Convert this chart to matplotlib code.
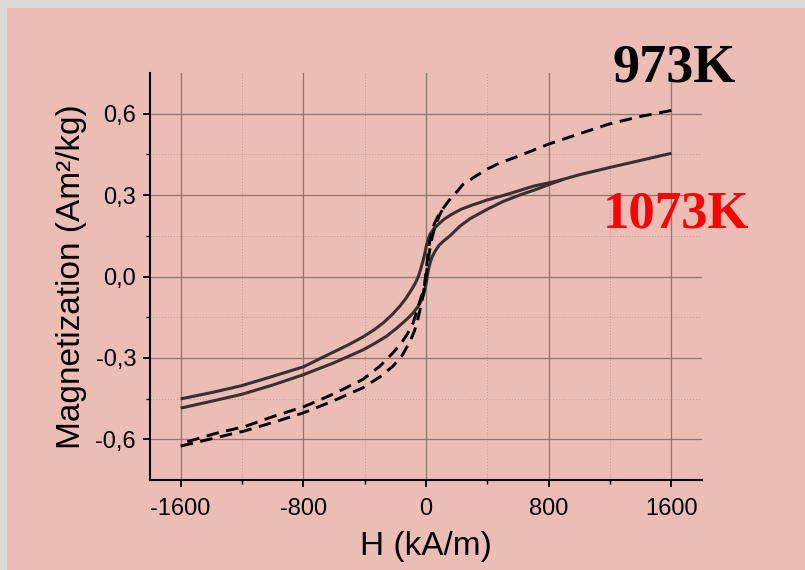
import numpy as np
import matplotlib
matplotlib.use("Agg")
import matplotlib.pyplot as plt
from matplotlib.patches import Rectangle

# 1073K loop (solid): descending branch (+H -> -H) and ascending branch (-H -> +H)
h_desc_1073 = [1600, 1400, 1200, 1000, 850, 700, 600, 500, 400, 300, 230, 170, 120, 80, 50,
               26, 10, 4, -6, -17, -32, -50, -70, -94, -130, -170, -220, -279, -340, -409,
               -500, -627, -800, -1000, -1200, -1400, -1600]
m_desc_1073 = [0.454, 0.428, 0.402, 0.375, 0.351, 0.333, 0.315, 0.298, 0.282, 0.263, 0.248,
               0.230, 0.212, 0.192, 0.175, 0.155, 0.130, 0.118, 0.090, 0.063, 0.032, 0.000,
               -0.025, -0.048, -0.080, -0.109, -0.140, -0.171, -0.197, -0.222, -0.250,
               -0.285, -0.333, -0.368, -0.402, -0.428, -0.451]
h_asc_1073 = [-1600, -1400, -1200, -1000, -800, -600, -409, -330, -257, -190, -126, -85, -50,
              -25, -7, 3, 8, 16, 26, 40, 59, 85, 113, 157, 220, 287, 400, 505, 620, 723, 831,
              900]
m_asc_1073 = [-0.485, -0.460, -0.434, -0.400, -0.362, -0.318, -0.270, -0.245, -0.220, -0.190,
              -0.158, -0.135, -0.109, -0.082, -0.048, -0.020, 0.000, 0.025, 0.049, 0.072,
              0.093, 0.115, 0.130, 0.150, 0.185, 0.213, 0.248, 0.277, 0.302, 0.322, 0.345,
              0.359]

# 973K loop (dashed)
h_desc_973 = [1600, 1400, 1200, 1000, 800, 600, 480, 400, 330, 241, 190, 150, 110, 80, 55,
              35, 20, 10, 0, -10, -25, -40, -60, -83, -120, -160, -215, -300, -411, -607,
              -797, -986, -1182, -1370, -1600]
m_desc_973 = [0.612, 0.590, 0.563, 0.526, 0.488, 0.443, 0.418, 0.396, 0.372, 0.339, 0.305,
              0.280, 0.250, 0.225, 0.195, 0.160, 0.115, 0.070, 0.015, -0.030, -0.065,
              -0.090, -0.128, -0.170, -0.210, -0.245, -0.281, -0.330, -0.379, -0.434,
              -0.480, -0.514, -0.553, -0.578, -0.616]
h_asc_973 = [-1600, -1370, -1182, -986, -797, -607, -411, -300, -215, -160, -104, -75, -50,
             -30, -15, 0, 12, 25, 40, 60, 85, 110]
m_asc_973 = [-0.625, -0.594, -0.569, -0.536, -0.502, -0.459, -0.410, -0.370, -0.330, -0.295,
             -0.240, -0.200, -0.150, -0.100, -0.055, 0.000, 0.050, 0.100, 0.145, 0.185,
             0.222, 0.250]

x_ticks = [-1600, -800, 0, 800, 1600]
x_minor = [-1200, -400, 400, 1200]
y_ticks = [-0.6, -0.3, 0.0, 0.3, 0.6]
y_labels = ["-0,6", "-0,3", "0,0", "0,3", "0,6"]
y_minor = [-0.45, -0.15, 0.15, 0.45]

PINK = "#ECBDB5"
plt.rcParams['font.family'] = ['Liberation Sans', 'DejaVu Sans']
plt.rcParams['axes.unicode_minus'] = False

fig = plt.figure(figsize=(8.05, 5.7), dpi=100)
fig.patch.set_facecolor("#dcd9d9")
fig.add_artist(Rectangle((7 / 805, 0), 1, (570 - 8) / 570, transform=fig.transFigure,
                         facecolor=PINK, edgecolor="none", zorder=0))

ax = fig.add_axes([150 / 805, 90 / 570, 552 / 805, 407 / 570])
ax.set_facecolor("none")

# grid
ax.set_xticks(x_ticks)
ax.set_xticks(x_minor, minor=True)
ax.set_yticks(y_ticks)
ax.set_yticklabels(y_labels)
ax.set_yticks(y_minor, minor=True)
ax.grid(True, which="major", color="#8f7470", linewidth=0.9)
ax.grid(True, which="minor", color="#b89893", linewidth=0.7, linestyle=(0, (1, 2)))
ax.set_axisbelow(True)

# curves
for hh, mm in [(h_desc_1073, m_desc_1073), (h_asc_1073, m_asc_1073)]:
    ax.plot(hh, mm, color="#3a302e", lw=2.2, solid_joinstyle="round", solid_capstyle="butt")
for hh, mm in [(h_desc_973, m_desc_973), (h_asc_973, m_asc_973)]:
    dl, = ax.plot(hh, mm, color="black", lw=2.1)
    dl.set_dashes((4.3, 2.6))

ax.set_xlim(-1800, 1800)
ax.set_ylim(-0.75, 0.75)

for s in ["top", "right"]:
    ax.spines[s].set_visible(False)
for s in ["left", "bottom"]:
    ax.spines[s].set_linewidth(1.5)
    ax.spines[s].set_color("black")

ax.tick_params(which="major", direction="out", length=5, width=1.3, labelsize=17, pad=5)
ax.tick_params(axis="x", which="major", pad=8)
ax.tick_params(which="minor", direction="out", length=3, width=1.0)

ax.set_xlabel("H (kA/m)", fontsize=24, labelpad=8)
ax.set_ylabel("Magnetization (Am²/kg)", fontsize=24, labelpad=6)

fig.text(674 / 805, (570 - 82) / 570, "973K", fontsize=39, fontweight="bold",
         family="Liberation Serif", color="black", ha="center", va="baseline")
fig.text(676 / 805, (570 - 227) / 570, "1073K", fontsize=38, fontweight="bold",
         family="Liberation Serif", color="red", ha="center", va="baseline")

fig.savefig("out.png", dpi=100, facecolor=fig.get_facecolor())
